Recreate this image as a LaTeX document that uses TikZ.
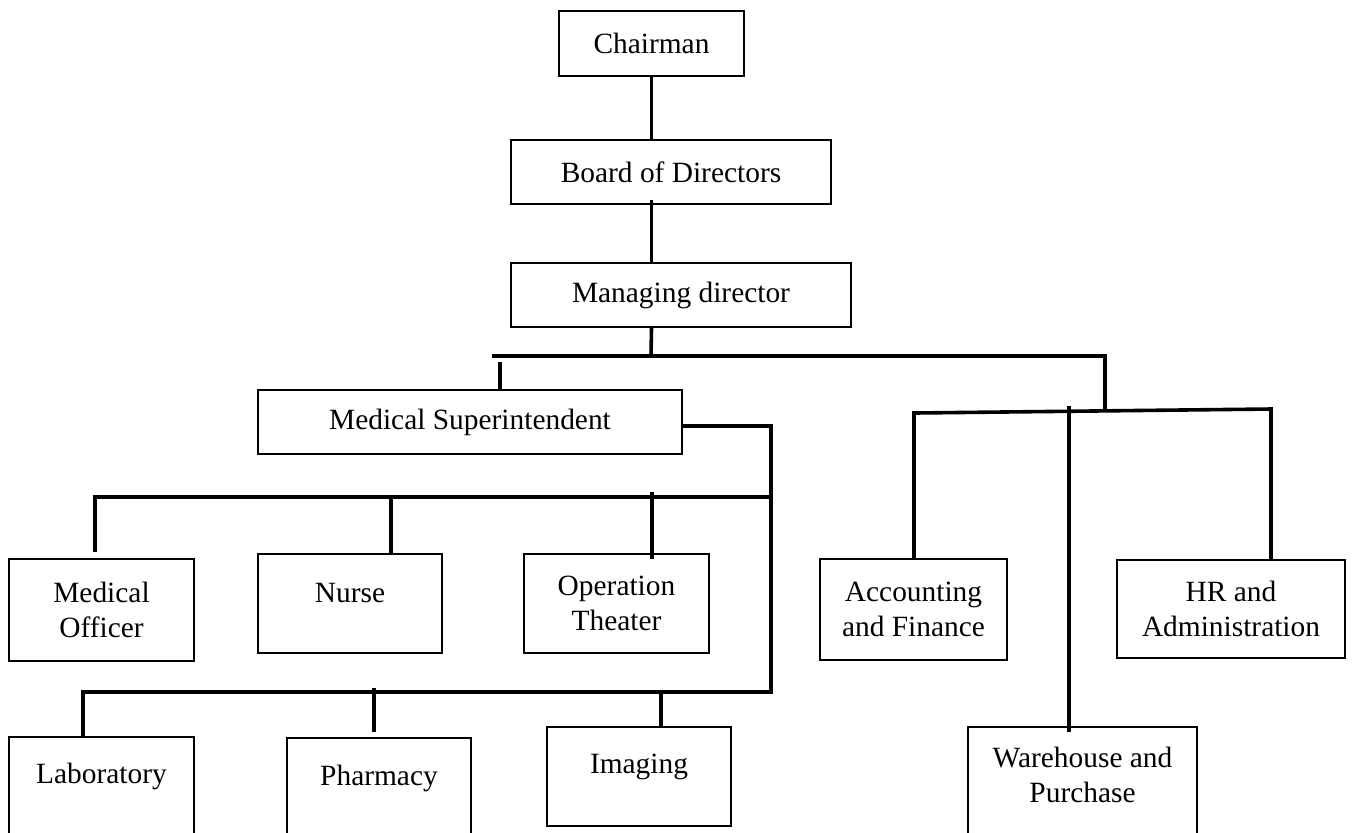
\documentclass[tikz,border=0pt]{standalone}
\usepackage{fontspec}
\setmainfont{Liberation Serif}
\usetikzlibrary{calc}

\newcommand{\orgfont}{\fontsize{14.7pt}{17.8pt}\selectfont}
\tikzset{
  box/.style 2 args={draw, line width=1.2pt, minimum width=#1*0.5pt, minimum height=#2*0.5pt, inner sep=0pt, align=center, font=\orgfont},
  lbl/.style={inner sep=0pt, align=center, font=\orgfont},
  link/.style={line width=1.8pt},
}

\begin{document}
\begin{tikzpicture}[x=0.5pt,y=0.5pt,yscale=-1,xscale=1]
\useasboundingbox (0,0) rectangle (1352,832);
\clip (0,0) rectangle (1352,832);

% Top of the chart
\node[box={185}{65}] (chair) at (651.5,43.5) {Chairman};
\node[box={320}{64}] (board) at (671,172) {Board of Directors};
\node[box={340}{64}] (md) at (681,295) {Managing director};
\node[box={424}{64}] (ms) at (470,422) {Medical Superintendent};

% Medical side
\node[box={185}{102}] (mo) at (101.5,610) {Medical\\Officer};
\node[box={184}{99}] (nurse) at (350,603.5) {};
\node[lbl] (nurseT) at ($(nurse)+(0,-10.5)$) {Nurse};
\node[box={185}{99}] (ot) at (616.5,603.5) {Operation\\Theater};
\node[box={185}{120}] (lab) at (101.5,797) {};
\node[lbl] (labT) at ($(lab)+(0,-21)$) {Laboratory};
\node[box={184}{120}] (pharm) at (379,798) {};
\node[lbl] (pharmT) at ($(pharm)+(0,-20)$) {Pharmacy};
\node[box={184}{99}] (img) at (639,776.5) {};
\node[lbl] (imgT) at ($(img)+(0,-9.5)$) {Imaging};

% Support side
\node[box={187}{101}] (acc) at (913.5,609.5) {Accounting\\and Finance};
\node[box={228}{98}] (hr) at (1231,609) {HR and\\Administration};
\node[box={229}{120}] (wh) at (1082.5,787) {};
\node[lbl] (whT) at ($(wh)+(0,-12)$) {Warehouse and\\Purchase};

% Connectors, top
\coordinate (j1) at (651,356);
\draw[link] (chair.south) -- (chair.south |- board.north);
\draw[link] ($(chair.south |- board.south)+(0,-5)$) -- (chair.south |- md.north);
\draw[link] (chair.south |- md.south) -- (j1);
\coordinate (b1w) at (492,356);
\coordinate (b1e) at (1105,356);
\coordinate (b2m) at (1105,411);
\draw[link] (b1w) -- (b1e) -- (b2m);
\coordinate (msd) at (500,362);
\draw[link] (msd) -- (msd |- ms.north);

% Connectors, support side
\coordinate (b2w) at (914,413);
\coordinate (b2e) at (1271,409);
\draw[link] (acc.north -| b2w) -- (b2w) -- (b2e) -- (b2e |- hr.north);
\coordinate (whd) at (1069,406);
\draw[link] (whd) -- ($(whd |- wh.north)+(0,6)$);

% Connectors, medical side
\coordinate (c1) at (771,426);
\coordinate (c2) at (771,692);
\draw[link] (ms.east |- c1) -- (c1) -- (c2);
\coordinate (b3w) at (95,497);
\coordinate (b3e) at (771,497);
\draw[link] ($(b3w |- mo.north)+(0,-6)$) -- (b3w) -- (b3e);
\coordinate (b3n) at (391,497);
\draw[link] (b3n) -- (b3n |- nurse.north);
\coordinate (b3o) at (652,492);
\draw[link] (b3o) -- ($(b3o |- ot.north)+(0,6)$);
\coordinate (b4w) at (83,692);
\coordinate (b4e) at (773,692);
\draw[link] (lab.north -| b4w) -- (b4w) -- (b4e);
\coordinate (b4p) at (374,688);
\draw[link] (b4p) -- ($(b4p |- pharm.north)+(0,-5)$);
\coordinate (b4i) at (661,692);
\draw[link] (b4i) -- (b4i |- img.north);

\end{tikzpicture}
\end{document}
